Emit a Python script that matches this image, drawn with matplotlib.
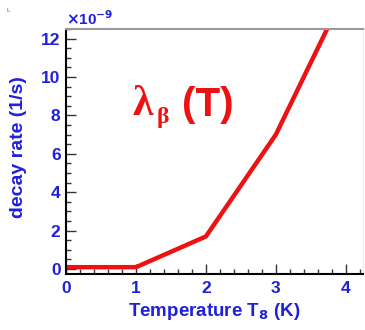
import matplotlib
matplotlib.use("Agg")
import matplotlib.pyplot as plt
from matplotlib.ticker import MultipleLocator

# data
temperature = [0.0, 1.0, 2.0, 3.0, 4.0]
decay_rate = [0.1, 0.1, 1.7, 7.0, 14.5]   # units of 1e-9 1/s

x_ticks = [0, 1, 2, 3, 4]
y_ticks = [0, 2, 4, 6, 8, 10, 12]

BLUE = "#2020dc"
RED = "#ee1111"

plt.rcParams["font.family"] = ["Liberation Sans", "DejaVu Sans"]
plt.rcParams["font.weight"] = "bold"

fig = plt.figure(figsize=(3.65, 3.3), dpi=100)
ax = fig.add_axes([0.181, 0.170, 0.814, 0.742])

ax.plot(temperature, decay_rate, color=RED, linewidth=3.2, solid_capstyle="butt")

ax.set_xlim(0, 4.25)
ax.set_ylim(-0.25, 12.5)
ax.set_xticks(x_ticks)
ax.set_yticks(y_ticks)
ax.xaxis.set_minor_locator(MultipleLocator(0.2))
ax.yaxis.set_minor_locator(MultipleLocator(0.5))
ax.tick_params(which="both", direction="in", colors="#333333", labelcolor=BLUE,
               labelsize=12.5)
ax.tick_params(which="major", length=7, width=1)
ax.tick_params(which="minor", length=3.5, width=1)
ax.tick_params(axis="x", pad=5)
ax.tick_params(axis="y", pad=4)
for lbl in ax.get_xticklabels() + ax.get_yticklabels():
    lbl.set_fontweight("bold")

ax.spines["left"].set_color("black")
ax.spines["bottom"].set_color("black")
ax.spines["left"].set_linewidth(1.5)
ax.spines["bottom"].set_linewidth(1.5)
ax.spines["top"].set_color("#999999")
ax.spines["top"].set_linewidth(1.5)
ax.spines["right"].set_color("#fbe6e0")

ax.set_xlabel(r"Temperature T$_{\mathbf{8}}$ (K)", color=BLUE, fontsize=13.5,
              fontweight="bold")
ax.set_ylabel("decay rate (1/s)", color=BLUE, fontsize=14, fontweight="bold")
ax.xaxis.set_label_coords(0.50, -0.11)
ax.yaxis.set_label_coords(-0.131, 0.52)

ax.text(0.0, 1.005, r"$\times$10$^{-9}$", transform=ax.transAxes, color=BLUE,
        fontsize=11, ha="left", va="bottom")

# lambda_beta (T) label
ax.text(0.222, 0.649, "λ", transform=ax.transAxes, color=RED, fontsize=30,
        fontweight="bold", family=["Liberation Serif", "DejaVu Serif"],
        ha="left", va="baseline")
ax.text(0.306, 0.615, "β", transform=ax.transAxes, color=RED, fontsize=17,
        fontweight="bold", family=["Liberation Serif", "DejaVu Serif"],
        ha="left", va="baseline")
ax.text(0.39, 0.645, "(T)", transform=ax.transAxes, color=RED, fontsize=29,
        fontweight="bold", ha="left", va="baseline")

fig.text(0.017, 0.965, "L", fontsize=4, color="#888888")

fig.savefig("out.png", dpi=100)
